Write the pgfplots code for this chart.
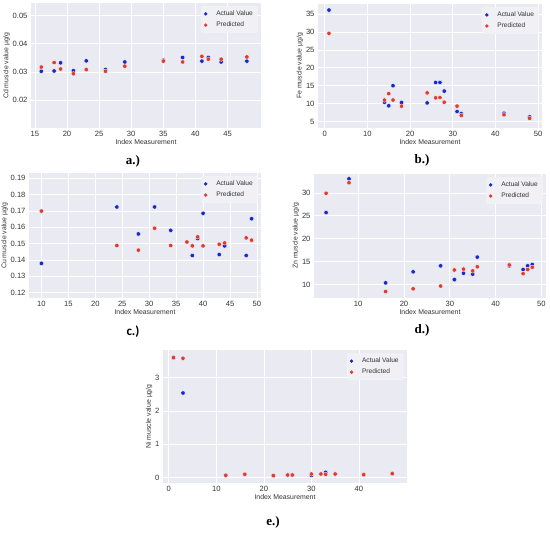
\documentclass[border=0pt]{standalone}
\usepackage{pgfplots}
\pgfplotsset{compat=1.18}
\usepackage{fontspec}
\setmainfont{Liberation Sans}
\newfontfamily\serifbf{Liberation Serif}
\newfontfamily\calib{Carlito}
\definecolor{sbbg}{HTML}{EAEAF2}
\definecolor{actblue}{RGB}{25,40,200}
\definecolor{predred}{RGB}{222,60,50}
\definecolor{tickgray}{HTML}{333333}
\pgfplotsset{
  panel/.style={
    scale only axis,
    anchor=north west,
    axis background/.style={fill=sbbg},
    axis line style={draw=none},
    major tick length=0pt,
    grid=major,
    major grid style={white, line width=0.6pt},
    tick label style={font=\fontsize{7.6}{8.6}\selectfont, text=tickgray},
    label style={font=\fontsize{6.9}{7.9}\selectfont, text=tickgray},
    xlabel={Index Measurement},
    xlabel style={yshift=4pt},
    ylabel style={yshift=-4pt},
    /pgf/number format/assume math mode=true,
    scaled ticks=false,
    legend style={at={(0.985,0.975)}, anchor=north east,
      fill={rgb,255:red,240;green,240;blue,245}, draw={rgb,255:red,246;green,246;blue,249},
      font=\fontsize{6.6}{8}\selectfont, text=tickgray, rounded corners=1pt,
      row sep=0.8pt, inner sep=2.5pt},
    legend cell align=left,
    legend image code/.code={\path[draw=none,fill=none] (0cm,0cm) -- (0.36cm,0cm); \fill[##1] (0.06cm,0cm) circle (1.5pt);},
  },
  act/.style={only marks, mark=*, mark size=2.2pt, mark options={fill=actblue, draw=white, line width=0.3pt}, draw=actblue, fill=actblue},
  pred/.style={only marks, mark=*, mark size=2.2pt, mark options={fill=predred, draw=white, line width=0.3pt}, draw=predred, fill=predred},
}
\begin{document}
\begin{tikzpicture}
\useasboundingbox (0pt,0pt) rectangle (550pt,-534pt);
% ---------------- a ----------------
\begin{axis}[panel, at={(31pt,-3pt)}, width=230pt, height=125pt,
  xmin=14.4, xmax=50.2, ymin=0.0100, ymax=0.0545,
  xtick={15,20,...,45}, ytick={0.02,0.03,0.04,0.05},
  yticklabels={0.02,0.03,0.04,0.05},
  ylabel={Cd muscle value µg/g}]
\addplot[act] coordinates {(16,0.0302)(18,0.0303)(19,0.0332)(21,0.0304)(23,0.0339)(26,0.0308)(29,0.0335)(35,0.0341)(38,0.0351)(41,0.0338)(42,0.0351)(44,0.0335)(48,0.0338)};
\addplot[pred] coordinates {(16,0.0317)(18,0.0333)(19,0.0310)(21,0.0293)(23,0.0308)(26,0.0302)(29,0.0320)(35,0.0338)(38,0.0335)(41,0.0355)(42,0.0345)(44,0.0345)(48,0.0353)};
\legend{Actual Value, Predicted}
\end{axis}
\node[font=\serifbf\bfseries\fontsize{13}{14}\selectfont] at (133pt,-161pt) {a.)};
% ---------------- b ----------------
\begin{axis}[panel, at={(318pt,-4pt)}, width=224pt, height=124pt,
  xmin=-1.57, xmax=50.9, ymin=3.2, ymax=37.8,
  xtick={0,10,...,50}, ytick={5,10,...,35},
  ylabel={Fe muscle value µg/g}]
\addplot[act] coordinates {(1,36.1)(14,10.4)(15,9.4)(16,15.0)(18,10.3)(24,10.2)(26,15.9)(27,15.9)(28,13.5)(31,7.8)(32,7.2)(42,7.3)(48,6.3)};
\addplot[pred] coordinates {(1,29.6)(14,11.0)(15,12.8)(16,11.0)(18,9.3)(24,13.0)(26,11.6)(27,11.7)(28,10.4)(31,9.3)(32,6.7)(42,6.9)(48,5.9)};
\legend{Actual Value, Predicted}
\end{axis}
\node[font=\serifbf\bfseries\fontsize{13}{14}\selectfont] at (422pt,-160pt) {b.)};
% ---------------- c ----------------
\begin{axis}[panel, at={(29pt,-173pt)}, width=232pt, height=125pt,
  xmin=7.7, xmax=50.75, ymin=0.1167, ymax=0.1932,
  xtick={10,15,...,50}, ytick={0.12,0.13,...,0.19},
  yticklabels={0.12,0.13,0.14,0.15,0.16,0.17,0.18,0.19},
  ylabel={Cu muscle value µg/g}]
\addplot[act] coordinates {(10,0.1379)(24,0.1724)(28,0.1559)(31,0.1724)(34,0.1581)(38,0.1427)(39,0.1531)(40,0.1685)(43,0.1433)(44,0.1486)(48,0.1427)(49,0.1652)};
\addplot[pred] coordinates {(10,0.1699)(24,0.1488)(28,0.1460)(31,0.1594)(34,0.1488)(37,0.1510)(38,0.1486)(39,0.1541)(40,0.1486)(43,0.1496)(44,0.1504)(48,0.1535)(49,0.1521)};
\legend{Actual Value, Predicted}
\end{axis}
\node[font=\calib\bfseries\fontsize{13}{14}\selectfont] at (133pt,-332pt) {c.)};
% ---------------- d ----------------
\begin{axis}[panel, at={(314pt,-174pt)}, width=232pt, height=124pt,
  xmin=0.36, xmax=51.0, ymin=7.1, ymax=34.1,
  xtick={10,20,...,50}, ytick={10,15,...,30},
  ylabel={Zn muscle value µg/g}]
\addplot[act] coordinates {(3,25.7)(8,33.05)(16,10.4)(22,12.8)(28,14.1)(31,11.1)(33,12.5)(35,12.3)(36,16.0)(43,14.1)(46,13.3)(47,14.1)(48,14.4)};
\addplot[pred] coordinates {(3,29.9)(8,32.2)(16,8.5)(22,9.1)(28,9.7)(31,13.2)(33,13.4)(35,13.0)(36,13.9)(43,14.3)(46,12.4)(47,13.3)(48,13.8)};
\legend{Actual Value, Predicted}
\end{axis}
\node[font=\serifbf\bfseries\fontsize{13}{14}\selectfont] at (422pt,-330pt) {d.)};
% ---------------- e ----------------
\begin{axis}[panel, at={(163pt,-350pt)}, width=244pt, height=133pt,
  xmin=-1.2, xmax=50.1, ymin=-0.16, ymax=3.83,
  xtick={0,10,...,40}, ytick={0,1,2,3},
  ylabel={Ni muscle value µg/g}]
\addplot[act] coordinates {(1,3.60)(3,2.54)(12,0.07)(16,0.10)(22,0.06)(25,0.08)(26,0.08)(30,0.07)(32,0.11)(33,0.16)(35,0.11)(41,0.09)(47,0.12)};
\addplot[pred] coordinates {(1,3.60)(3,3.58)(12,0.07)(16,0.10)(22,0.06)(25,0.08)(26,0.08)(30,0.11)(32,0.11)(33,0.10)(35,0.11)(41,0.09)(47,0.12)};
\legend{Actual Value, Predicted}
\end{axis}
\node[font=\serifbf\bfseries\fontsize{13}{14}\selectfont] at (273pt,-522pt) {e.)};
\end{tikzpicture}
\end{document}
